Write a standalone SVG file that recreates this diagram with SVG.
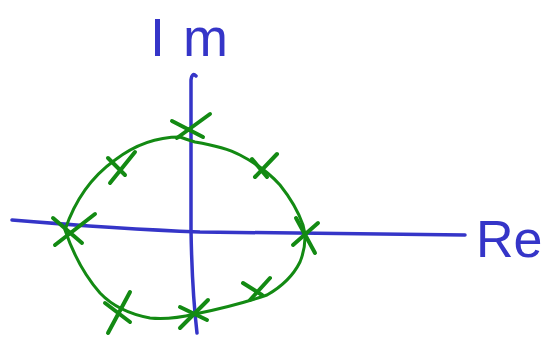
<svg xmlns="http://www.w3.org/2000/svg" width="552" height="338" viewBox="0 0 552 338">
<style>
.ax{fill:none;stroke:#3535c8;stroke-width:3.5;stroke-linecap:round;stroke-linejoin:round}
.cv{fill:none;stroke:#138a13;stroke-width:3;stroke-linecap:round;stroke-linejoin:round}
.x{fill:none;stroke:#138a13;stroke-width:4;stroke-linecap:round}
.lbl{fill:#3535c8;font-family:"Liberation Sans",Arial,sans-serif;font-weight:normal}
</style>
<rect width="552" height="338" fill="#ffffff"/>
<g id="axes">
<path class="ax" d="M12,220 Q120,229 200,232 L465,235"/>
<path class="ax" d="M191,80 Q192,72 196,76 M191,80 L191,230 Q192,290 197,333"/>
</g>
<g id="labels">
<text class="lbl" x="150" y="56" font-size="54" textLength="78" lengthAdjust="spacing">Im</text>
<text class="lbl" x="476" y="257" font-size="52">Re</text>
</g>
<g id="contour">
<path class="cv" d="M65,230 Q80,185 115,160 Q145,137 180,137 Q188,140 195,142 Q225,147 240,155 Q265,168 280,185 Q296,205 303,225 Q308,242 300,262 Q290,282 267,295 Q235,306 195,314 Q170,320 150,318 Q118,312 100,293 Q78,268 65,230"/>
</g>
<g id="crosses">
<path class="x" d="M172,121 L203,137 M177,138 L210,114"/>
<path class="x" d="M252,159 L267,177 M255,177 L277,154"/>
<path class="x" d="M296,218 L315,253 M293,245 L318,223"/>
<path class="x" d="M243,283 L262,295 M250,300 L270,278"/>
<path class="x" d="M180,307 L207,320 M180,328 L208,300"/>
<path class="x" d="M105,303 L130,322 M108,333 L130,292"/>
<path class="x" d="M53,218 L82,243 M55,245 L95,214"/>
<path class="x" d="M108,158 L125,175 M110,183 L135,152"/>
</g>
</svg>
